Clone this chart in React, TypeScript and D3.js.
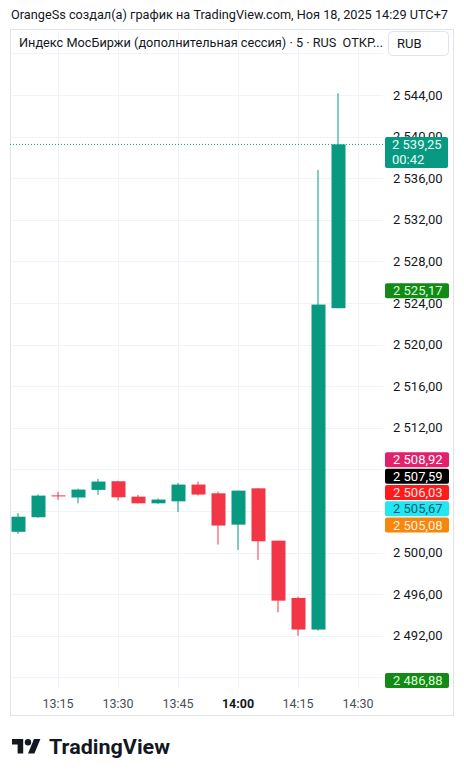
import React from "react";
import * as d3 from "d3";

const times = ["13:05","13:10","13:15","13:20","13:25","13:30","13:35","13:40","13:45","13:50","13:55","14:00","14:05","14:10","14:15","14:20","14:25"];
const opens  = [2502.0, 2503.4, 2505.5, 2505.3, 2506.03, 2506.86, 2505.38, 2504.74, 2504.93, 2506.54, 2505.7, 2502.69, 2506.18, 2501.15, 2495.64, 2492.6, 2523.5];
const highs  = [2503.8, 2505.6, 2505.85, 2506.15, 2507.09, 2506.9, 2505.55, 2505.2, 2506.7, 2506.83, 2505.87, 2505.96, 2506.18, 2501.15, 2495.77, 2536.8, 2544.16];
const lows   = [2501.8, 2503.35, 2505.07, 2504.74, 2505.55, 2505.0, 2504.74, 2504.7, 2503.9, 2505.5, 2500.77, 2500.26, 2499.3, 2494.26, 2492.0, 2492.5, 2523.5];
const closes = [2503.45, 2505.48, 2505.45, 2506.06, 2506.83, 2505.32, 2504.74, 2505.1, 2506.54, 2505.58, 2502.6, 2505.96, 2501.09, 2495.38, 2492.6, 2523.85, 2539.25];

const timeTicks = ["13:15", "13:30", "13:45", "14:00", "14:15", "14:30"];
const timeTickIdx = [2, 5, 8, 11, 14, 17];
const priceTicks = [2548, 2544, 2540, 2536, 2532, 2528, 2524, 2520, 2516, 2512, 2508, 2504, 2500, 2496, 2492, 2488];

const lastPrice = 2539.25;
const countdown = "00:42";
const stackValues = [2508.92, 2507.59, 2506.03, 2505.67, 2505.08];
const stackFills = ["#e3206b", "#000000", "#ff1b1b", "#22e6f2", "#f7860f"];
const stackText = ["#ffffff", "#ffffff", "#ffe3e3", "#0e5d6b", "#fff1dc"];
const greenLabels = [2525.17, 2486.88];

const header1 = "OrangeSs создал(а) график на TradingView.com, Ноя 18, 2025 14:29 UTC+7";
const header2 = "Индекс МосБиржи (дополнительная сессия) · 5 · RUS\u00A0\u00A0ОТКР...";

const UP = "#089981";
const DOWN = "#f23645";
const GRID = "#f0f3fa";
const FONT = "Roboto, 'Noto Sans', sans-serif";

const fmt = (v: number) => {
  const s = v.toFixed(2).replace(".", ",");
  const [i, f] = s.split(",");
  return i.slice(0, i.length - 3) + " " + i.slice(i.length - 3) + "," + f;
};

export default function App() {
  const W = 464, H = 777;
  const plotL = 10, plotR = 383, plotT = 29, plotB = 688;
  const y = d3.scaleLinear().domain([2544, 2500]).range([95, 95 + 44 * 10.4]);
  const x = d3.scaleLinear().domain([0, 16]).range([18, 338]);
  const bodyW = 14;
  const boxH = 15;

  const stackPos: number[] = [];
  stackValues.forEach((v, i) => {
    const yy = y(v);
    stackPos.push(i === 0 ? yy : Math.max(yy, stackPos[i - 1] + 16.3));
  });
  const greenPos = greenLabels.map((v) => Math.min(y(v), plotB - boxH / 2));
  const coverRanges = [
    [stackPos[0] - boxH / 2, stackPos[stackPos.length - 1] + boxH / 2],
    ...greenPos.map((p) => [p - boxH / 2, p + boxH / 2]),
  ];

  return (
    <svg width={W} height={H} style={{ position: "absolute", left: 0, top: 0, background: "#fff" }} fontFamily={FONT}>
      <defs>
        <clipPath id="plotclip">
          <rect x={plotL + 0.5} y={plotT} width={plotR - plotL} height={plotB - plotT} />
        </clipPath>
      </defs>
      <rect x={0} y={0} width={W} height={H} fill="#fff" />
      <text x={11} y={19} fontSize={13} fill="#131722" textLength={437} lengthAdjust="spacingAndGlyphs">{header1}</text>

      <rect x={10.5} y={29.5} width={443} height={686} fill="#fff" stroke="#e0e3eb" />

      <g clipPath="url(#plotclip)">
        {priceTicks.map((t) => (
          <line key={t} x1={plotL} x2={plotR} y1={Math.round(y(t)) + 0.5} y2={Math.round(y(t)) + 0.5} stroke={GRID} />
        ))}
        {timeTickIdx.map((i) => (
          <line key={i} x1={Math.round(x(i)) + 0.5} x2={Math.round(x(i)) + 0.5} y1={plotT} y2={plotB} stroke={GRID} />
        ))}
      </g>

      <g clipPath="url(#plotclip)">
        {times.map((t, i) => {
          const o = opens[i], c = closes[i], h = highs[i], l = lows[i];
          const col = c >= o ? UP : DOWN;
          const cx = Math.round(x(i));
          const top = y(Math.max(o, c));
          const bot = y(Math.min(o, c));
          return (
            <g key={t}>
              <rect x={cx - 0.5} y={y(h)} width={1} height={y(l) - y(h)} fill={col} />
              <rect x={cx - bodyW / 2 + 0.5} y={top} width={bodyW} height={Math.max(1, bot - top)} fill={col} />
            </g>
          );
        })}
      </g>

      <line x1={plotL} x2={385} y1={y(lastPrice)} y2={y(lastPrice)} stroke={UP} strokeWidth={1} strokeDasharray="1 2" />

      {priceTicks
        .filter((t) => t !== 2548)
        .filter((t) => !coverRanges.some(([a, b]) => y(t) >= a && y(t) <= b))
        .map((t) => (
          <text key={t} x={393} y={y(t) + 4.5} fontSize={13} fill="#131722">{fmt(t)}</text>
        ))}

      {stackValues.map((v, i) => (
        <g key={v}>
          <rect x={385} y={stackPos[i] - boxH / 2} width={64} height={boxH} rx={2} fill={stackFills[i]} />
          <text x={393} y={stackPos[i] + 4.5} fontSize={13} fill={stackText[i]}>{fmt(v)}</text>
        </g>
      ))}
      {greenLabels.map((v, i) => (
        <g key={v}>
          <rect x={385} y={greenPos[i] - boxH / 2} width={64} height={boxH} rx={2} fill="#138a16" />
          <text x={393} y={greenPos[i] + 4.5} fontSize={13} fill="#d8ffd8">{fmt(v)}</text>
        </g>
      ))}

      <g>
        <rect x={385} y={y(lastPrice) - 7.5} width={63} height={31} rx={2} fill={UP} />
        <text x={392} y={y(lastPrice) + 5} fontSize={13} fill="#e6fffa">{fmt(lastPrice)}</text>
        <text x={392} y={y(lastPrice) + 20} fontSize={13} fill="#e6fffa">{countdown}</text>
      </g>

      <text x={19} y={47} fontSize={13} fill="#131722" textLength={364} lengthAdjust="spacingAndGlyphs">{header2}</text>
      <rect x={388.5} y={31.5} width={60} height={24} rx={4} fill="#fff" stroke="#e0e3eb" />
      <text x={397} y={48} fontSize={13} fill="#131722">RUB</text>

      {timeTicks.map((t, k) => (
        <text key={t} x={x(timeTickIdx[k])} y={707.5} fontSize={12.5} textAnchor="middle" fill={t === "14:00" ? "#131722" : "#4a4e5a"} fontWeight={t === "14:00" ? 700 : 400}>{t}</text>
      ))}

      <g transform="translate(12,735.8) scale(0.8)" fill="#131722">
        <path d="M14 22H7V11H0V4h14v18z" />
        <circle cx={20} cy={8} r={4} />
        <path d="M28 22h-8l7.5-18h8L28 22z" />
      </g>
      <text x={49} y={754} fontSize={19.5} fontWeight={700} fill="#131722" textLength={121} lengthAdjust="spacingAndGlyphs">TradingView</text>
    </svg>
  );
}
